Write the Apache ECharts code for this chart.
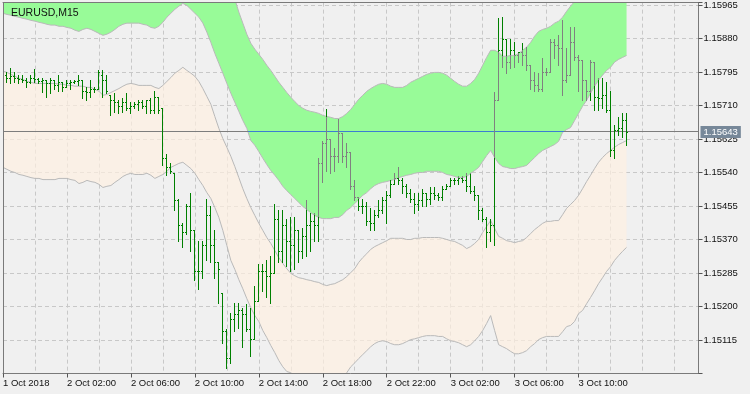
<!DOCTYPE html>
<html><head><meta charset="utf-8">
<script src="https://cdn.jsdelivr.net/npm/echarts@6/dist/echarts.min.js"></script>
<style>html,body{margin:0;padding:0;background:#f0f0f0}#c{width:750px;height:394px}</style>
</head><body><div id="c"></div>
<script>
const symbolLabel = 'EURUSD,M15';
const xTickLabels = ['1 Oct 2018','2 Oct 02:00','2 Oct 06:00','2 Oct 10:00','2 Oct 14:00','2 Oct 18:00','2 Oct 22:00','3 Oct 02:00','3 Oct 06:00','3 Oct 10:00'];
const yTickLabels = ['1.15115','1.15200','1.15285','1.15370','1.15455','1.15540','1.15625','1.15710','1.15795','1.15880','1.15965'];
const lastPrice = 1.15643;
const slotCount = 175;

const greenTop = [1.16188,1.16188,1.16185,1.16180,1.16178,1.16175,1.16170,1.16168,1.16165,1.16162,
1.16162,1.16160,1.16157,1.16157,1.16150,1.16150,1.16145,1.16145,1.16140,1.16145,
1.16147,1.16142,1.16142,1.16134,1.16129,1.16122,1.16124,1.16132,1.16137,1.16142,
1.16145,1.16147,1.16147,1.16147,1.16145,1.16142,1.16137,1.16137,1.16137,1.16134,
1.16147,1.16162,1.16173,1.16188,1.16198,1.16211,1.16206,1.16195,1.16190,1.16183,
1.16165,1.16140,1.16109,1.16074,1.16043,1.16025,1.16015,1.16005,1.15980,1.15947,
1.15919,1.15891,1.15868,1.15853,1.15840,1.15827,1.15812,1.15799,1.15784,1.15769,
1.15756,1.15743,1.15731,1.15720,1.15710,1.15703,1.15698,1.15695,1.15693,1.15690,
1.15685,1.15682,1.15680,1.15677,1.15677,1.15682,1.15690,1.15700,1.15713,1.15726,
1.15736,1.15746,1.15753,1.15759,1.15764,1.15766,1.15764,1.15759,1.15756,1.15756,
1.15756,1.15761,1.15769,1.15774,1.15779,1.15784,1.15789,1.15792,1.15794,1.15794,
1.15792,1.15787,1.15779,1.15771,1.15764,1.15759,1.15759,1.15766,1.15776,1.15792,
1.15812,1.15832,1.15850,1.15850,1.15845,1.15835,1.15835,1.15837,1.15837,1.15842,
1.15850,1.15858,1.15870,1.15886,1.15898,1.15903,1.15906,1.15911,1.15919,1.15924,
1.15934,1.15949,1.15962,1.15974,1.15995,1.16018,1.16033,1.16051,1.16068,1.16081,
1.16091,1.16099,1.16101,1.16107,1.16109,1.16109,1.16109];

const greenBottom = [1.15944,1.15941,1.15939,1.15936,1.15934,1.15931,1.15929,1.15926,1.15924,1.15921,
1.15919,1.15916,1.15914,1.15914,1.15911,1.15911,1.15908,1.15906,1.15901,1.15898,
1.15903,1.15906,1.15903,1.15898,1.15893,1.15888,1.15891,1.15896,1.15903,1.15911,
1.15916,1.15919,1.15919,1.15919,1.15919,1.15916,1.15914,1.15908,1.15906,1.15911,
1.15921,1.15934,1.15944,1.15954,1.15962,1.15969,1.15964,1.15954,1.15944,1.15934,
1.15919,1.15896,1.15870,1.15842,1.15817,1.15792,1.15766,1.15741,1.15718,1.15695,
1.15672,1.15652,1.15621,1.15609,1.15593,1.15576,1.15560,1.15545,1.15533,1.15520,
1.15505,1.15494,1.15484,1.15474,1.15464,1.15454,1.15446,1.15438,1.15431,1.15426,
1.15423,1.15423,1.15423,1.15426,1.15426,1.15433,1.15444,1.15451,1.15461,1.15472,
1.15482,1.15489,1.15499,1.15507,1.15512,1.15515,1.15517,1.15520,1.15522,1.15527,
1.15530,1.15533,1.15535,1.15538,1.15540,1.15540,1.15543,1.15543,1.15543,1.15543,
1.15540,1.15535,1.15533,1.15530,1.15527,1.15527,1.15530,1.15538,1.15545,1.15553,
1.15568,1.15583,1.15596,1.15578,1.15563,1.15555,1.15553,1.15550,1.15550,1.15553,
1.15555,1.15558,1.15568,1.15578,1.15588,1.15596,1.15601,1.15606,1.15611,1.15619,
1.15642,1.15649,1.15654,1.15672,1.15690,1.15708,1.15723,1.15741,1.15759,1.15774,
1.15787,1.15799,1.15807,1.15820,1.15827,1.15832,1.15837];

const peachTop = [1.15797,1.15794,1.15789,1.15784,1.15779,1.15776,1.15771,1.15769,1.15766,1.15766,
1.15766,1.15766,1.15766,1.15766,1.15764,1.15764,1.15761,1.15761,1.15759,1.15759,
1.15759,1.15756,1.15756,1.15751,1.15746,1.15736,1.15738,1.15743,1.15748,1.15753,
1.15759,1.15764,1.15766,1.15764,1.15761,1.15761,1.15761,1.15761,1.15756,1.15753,
1.15761,1.15771,1.15781,1.15792,1.15799,1.15807,1.15799,1.15792,1.15784,1.15771,
1.15753,1.15733,1.15713,1.15682,1.15652,1.15626,1.15604,1.15581,1.15555,1.15527,
1.15499,1.15474,1.15451,1.15431,1.15411,1.15393,1.15375,1.15360,1.15342,1.15324,
1.15309,1.15296,1.15284,1.15278,1.15273,1.15271,1.15268,1.15266,1.15263,1.15261,
1.15256,1.15253,1.15256,1.15258,1.15263,1.15268,1.15276,1.15286,1.15296,1.15312,
1.15324,1.15334,1.15345,1.15352,1.15357,1.15362,1.15367,1.15373,1.15373,1.15373,
1.15373,1.15370,1.15370,1.15373,1.15373,1.15375,1.15375,1.15375,1.15375,1.15375,
1.15373,1.15370,1.15367,1.15365,1.15360,1.15355,1.15347,1.15352,1.15360,1.15370,
1.15388,1.15403,1.15418,1.15398,1.15378,1.15373,1.15367,1.15365,1.15362,1.15365,
1.15367,1.15375,1.15385,1.15395,1.15403,1.15411,1.15416,1.15416,1.15418,1.15418,
1.15433,1.15449,1.15459,1.15469,1.15482,1.15499,1.15517,1.15533,1.15550,1.15566,
1.15578,1.15588,1.15596,1.15604,1.15611,1.15616,1.15621];

const peachBottom = [1.15553,1.15548,1.15543,1.15540,1.15535,1.15533,1.15530,1.15527,1.15525,1.15525,
1.15522,1.15522,1.15522,1.15522,1.15525,1.15525,1.15525,1.15522,1.15520,1.15512,
1.15515,1.15520,1.15517,1.15515,1.15510,1.15502,1.15505,1.15507,1.15515,1.15522,
1.15530,1.15535,1.15538,1.15535,1.15535,1.15535,1.15538,1.15533,1.15525,1.15530,
1.15535,1.15543,1.15553,1.15558,1.15563,1.15566,1.15558,1.15550,1.15538,1.15522,
1.15507,1.15489,1.15474,1.15451,1.15426,1.15393,1.15355,1.15317,1.15294,1.15268,
1.15245,1.15220,1.15197,1.15177,1.15162,1.15139,1.15121,1.15101,1.15083,1.15063,
1.15047,1.15035,1.15032,1.15024,1.15019,1.15014,1.15007,1.14999,1.14994,1.14989,
1.14986,1.14984,1.14986,1.14991,1.15004,1.15017,1.15032,1.15047,1.15057,1.15068,
1.15078,1.15088,1.15098,1.15106,1.15111,1.15113,1.15111,1.15106,1.15103,1.15103,
1.15106,1.15111,1.15116,1.15118,1.15121,1.15124,1.15126,1.15126,1.15126,1.15124,
1.15124,1.15118,1.15113,1.15111,1.15108,1.15103,1.15098,1.15103,1.15113,1.15124,
1.15139,1.15157,1.15177,1.15139,1.15103,1.15098,1.15093,1.15086,1.15080,1.15080,
1.15083,1.15088,1.15098,1.15106,1.15116,1.15121,1.15124,1.15124,1.15124,1.15124,
1.15136,1.15149,1.15152,1.15162,1.15182,1.15190,1.15207,1.15223,1.15240,1.15258,
1.15273,1.15289,1.15301,1.15317,1.15329,1.15340,1.15350];

const opens = [null,1.15787,1.15781,1.15784,1.15779,1.15776,1.15774,1.15769,1.15781,1.15776,
1.15771,1.15774,1.15766,1.15774,1.15761,1.15769,1.15756,1.15766,1.15769,1.15771,
1.15774,1.15748,1.15743,1.15753,1.15753,1.15787,1.15774,1.15736,1.15723,1.15718,
1.15710,1.15718,1.15703,1.15710,1.15715,1.15718,1.15710,1.15723,1.15698,1.15731,
1.15703,1.15578,1.15553,1.15538,1.15469,1.15406,1.15388,1.15456,1.15393,1.15291,
1.15291,1.15355,1.15431,1.15355,1.15312,1.15235,1.15139,1.15070,1.15169,1.15182,
1.15190,1.15182,1.15144,1.15118,1.15215,1.15291,1.15291,1.15278,1.15286,1.15423,
1.15342,1.15406,1.15367,1.15355,1.15393,1.15342,1.15380,1.15406,1.15418,1.15406,
1.15563,1.15614,1.15626,1.15583,1.15583,1.15639,1.15583,1.15591,1.15507,1.15477,
1.15456,1.15456,1.15418,1.15413,1.15431,1.15444,1.15469,1.15482,1.15512,1.15525,
1.15520,1.15507,1.15489,1.15474,1.15461,1.15469,1.15487,1.15474,1.15489,1.15482,
1.15477,1.15499,1.15505,1.15520,1.15520,1.15525,1.15520,1.15507,1.15494,1.15482,
1.15444,1.15423,1.15388,1.15406,1.15723,1.15850,1.15880,1.15820,1.15850,1.15837,
1.15845,1.15837,1.15812,1.15774,1.15761,1.15753,1.15794,1.15794,1.15870,1.15863,
1.15855,1.15774,1.15787,1.15870,1.15832,1.15825,1.15774,1.15748,1.15820,1.15731,
1.15728,1.15736,1.15698,1.15596,1.15647,1.15654,1.15672];

const highs = [null,1.15794,1.15804,1.15794,1.15787,1.15787,1.15779,1.15787,1.15802,1.15781,
1.15781,1.15774,1.15779,1.15774,1.15787,1.15769,1.15774,1.15774,1.15774,1.15787,
1.15774,1.15756,1.15774,1.15756,1.15799,1.15799,1.15787,1.15736,1.15741,1.15723,
1.15728,1.15741,1.15718,1.15718,1.15723,1.15723,1.15723,1.15728,1.15746,1.15731,
1.15703,1.15588,1.15563,1.15538,1.15474,1.15411,1.15461,1.15487,1.15393,1.15367,
1.15367,1.15474,1.15456,1.15393,1.15312,1.15235,1.15144,1.15184,1.15210,1.15210,
1.15195,1.15207,1.15197,1.15253,1.15309,1.15309,1.15317,1.15329,1.15461,1.15444,
1.15444,1.15423,1.15428,1.15426,1.15393,1.15400,1.15469,1.15436,1.15438,1.15576,
1.15621,1.15700,1.15626,1.15601,1.15677,1.15639,1.15616,1.15591,1.15520,1.15477,
1.15474,1.15464,1.15449,1.15444,1.15469,1.15477,1.15494,1.15520,1.15540,1.15553,
1.15525,1.15512,1.15499,1.15489,1.15487,1.15499,1.15487,1.15502,1.15502,1.15489,
1.15507,1.15510,1.15525,1.15525,1.15530,1.15530,1.15540,1.15540,1.15505,1.15482,
1.15449,1.15426,1.15423,1.15743,1.15931,1.15934,1.15880,1.15880,1.15870,1.15845,
1.15868,1.15858,1.15812,1.15794,1.15792,1.15830,1.15804,1.15880,1.15880,1.15888,
1.15926,1.15855,1.15908,1.15908,1.15837,1.15825,1.15774,1.15825,1.15820,1.15779,
1.15779,1.15769,1.15748,1.15660,1.15680,1.15690,1.15690];

const lows = [null,1.15769,1.15766,1.15769,1.15766,1.15769,1.15756,1.15766,1.15769,1.15766,
1.15743,1.15731,1.15741,1.15753,1.15748,1.15748,1.15756,1.15753,1.15766,1.15761,
1.15728,1.15723,1.15731,1.15743,1.15753,1.15731,1.15741,1.15685,1.15693,1.15690,
1.15693,1.15698,1.15690,1.15703,1.15698,1.15703,1.15690,1.15690,1.15690,1.15690,
1.15558,1.15533,1.15540,1.15444,1.15367,1.15350,1.15385,1.15342,1.15266,1.15245,
1.15273,1.15317,1.15312,1.15273,1.15210,1.15108,1.15045,1.15057,1.15139,1.15146,
1.15096,1.15139,1.15075,1.15118,1.15215,1.15240,1.15223,1.15210,1.15284,1.15312,
1.15312,1.15304,1.15291,1.15296,1.15312,1.15322,1.15329,1.15342,1.15367,1.15367,
1.15515,1.15545,1.15538,1.15545,1.15566,1.15566,1.15553,1.15499,1.15469,1.15444,
1.15438,1.15406,1.15393,1.15393,1.15426,1.15436,1.15411,1.15477,1.15512,1.15512,
1.15489,1.15477,1.15464,1.15436,1.15444,1.15456,1.15456,1.15461,1.15474,1.15469,
1.15469,1.15499,1.15505,1.15512,1.15512,1.15515,1.15494,1.15487,1.15469,1.15423,
1.15418,1.15350,1.15367,1.15355,1.15723,1.15807,1.15792,1.15804,1.15807,1.15820,
1.15812,1.15799,1.15753,1.15748,1.15748,1.15748,1.15787,1.15794,1.15830,1.15812,
1.15736,1.15769,1.15787,1.15825,1.15748,1.15723,1.15723,1.15723,1.15698,1.15698,
1.15703,1.15693,1.15583,1.15576,1.15634,1.15629,1.15609];

const closes = [null,1.15781,1.15784,1.15779,1.15776,1.15774,1.15769,1.15781,1.15776,1.15771,
1.15774,1.15766,1.15774,1.15761,1.15769,1.15756,1.15766,1.15769,1.15771,1.15774,
1.15748,1.15743,1.15753,1.15753,1.15794,1.15774,1.15748,1.15723,1.15718,1.15710,
1.15718,1.15703,1.15710,1.15715,1.15718,1.15710,1.15723,1.15698,1.15731,1.15698,
1.15578,1.15553,1.15545,1.15469,1.15406,1.15388,1.15456,1.15393,1.15291,1.15291,
1.15355,1.15431,1.15355,1.15312,1.15296,1.15139,1.15070,1.15169,1.15182,1.15190,
1.15182,1.15144,1.15118,1.15215,1.15291,1.15291,1.15278,1.15286,1.15423,1.15342,
1.15406,1.15367,1.15355,1.15393,1.15342,1.15380,1.15406,1.15418,1.15406,1.15563,
1.15614,1.15626,1.15583,1.15583,1.15639,1.15583,1.15591,1.15507,1.15477,1.15456,
1.15456,1.15418,1.15413,1.15431,1.15444,1.15469,1.15482,1.15512,1.15525,1.15520,
1.15507,1.15489,1.15474,1.15461,1.15469,1.15487,1.15474,1.15489,1.15482,1.15477,
1.15499,1.15505,1.15520,1.15520,1.15525,1.15520,1.15507,1.15494,1.15482,1.15444,
1.15423,1.15388,1.15406,1.15723,1.15850,1.15880,1.15820,1.15850,1.15837,1.15845,
1.15837,1.15812,1.15774,1.15761,1.15753,1.15794,1.15794,1.15870,1.15863,1.15855,
1.15774,1.15787,1.15870,1.15832,1.15825,1.15774,1.15748,1.15820,1.15731,1.15728,
1.15736,1.15698,1.15596,1.15647,1.15654,1.15672,1.15643];

// ---------- build ----------
const FONT = 'Liberation Sans, Arial, sans-serif';
const BAR_GREEN = '#008000', BAR_GRAY = '#808080', BAND_LINE = '#b9b9b9';
const PRICE_GRAY = '#7d7d7d', PRICE_BLUE = '#3c7dd2';
const cats = Array.from({length: slotCount}, (_, i) => String(i));
const diff = (a, b) => a.map((v, i) => +(v - b[i]).toFixed(6));
const barData = [];
for (let i = 0; i < opens.length; i++) if (opens[i] != null) barData.push([i, opens[i], highs[i], lows[i], closes[i]]);
const priceData = cats.map((c, i) => [i, lastPrice]);
const priceFlat = cats.map(() => lastPrice);

function inGreen(i, v) { return i < greenTop.length && v >= greenBottom[i] && v <= greenTop[i]; }

function renderBar(params, api) {
  const i = api.value(0), o = api.value(1), h = api.value(2), l = api.value(3), c = api.value(4);
  const px = Math.floor(api.coord([i, o])[0]);
  const py = v => Math.round(api.coord([i, v])[1]);
  const cuts = [l, h];
  [greenBottom[i], greenTop[i]].forEach(v => { if (v > l && v < h) cuts.push(v); });
  cuts.sort((a, b) => a - b);
  const kids = [];
  for (let k = 0; k < cuts.length - 1; k++) {
    const a = cuts[k], b = cuts[k + 1];
    const yT = py(b), yB = py(a) + (k === 0 ? 1 : 0);
    kids.push({type: 'rect', shape: {x: px, y: yT, width: 1, height: Math.max(1, yB - yT)},
      style: {fill: inGreen(i, (a + b) / 2) ? BAR_GRAY : BAR_GREEN, lineWidth: 0}});
  }
  kids.push({type: 'rect', shape: {x: px - 1, y: py(o), width: 1, height: 1}, style: {fill: inGreen(i, o) ? BAR_GRAY : BAR_GREEN, lineWidth: 0}});
  kids.push({type: 'rect', shape: {x: px + 1, y: py(c), width: 1, height: 1}, style: {fill: inGreen(i, c) ? BAR_GRAY : BAR_GREEN, lineWidth: 0}});
  return {type: 'group', children: kids};
}

function renderPrice(params, api) {
  const i = api.value(0), v = api.value(1);
  const p = api.coord([i, v]);
  return {type: 'rect', shape: {x: Math.floor(p[0]) - 2, y: Math.floor(p[1]), width: 4, height: 1},
    style: {fill: inGreen(i, v) ? PRICE_BLUE : PRICE_GRAY, lineWidth: 0}};
}

const yMin = 1.15030, yMax = 1.15971, yStep = 0.00085;
const dash = {color: '#c8c8c8', type: [4, 3], width: 1};
const frame = {color: '#7a7a7a', width: 1};
const tickShown = (idx) => idx % 16 === 0 && idx / 16 < xTickLabels.length;

const baseX = {type: 'category', data: cats, boundaryGap: false};
const baseY = {type: 'value', min: yMin, max: yMax, interval: yStep};

const option = {
  backgroundColor: '#f0f0f0',
  animation: false,
  textStyle: {fontFamily: FONT},
  title: {text: symbolLabel, left: 6, top: 3, textStyle: {fontSize: 10.5, fontWeight: 'normal', color: '#111', fontFamily: FONT}},
  grid: {left: 2.5, right: 51.5, top: 2.5, bottom: 20.5, containLabel: false},
  xAxis: [
    Object.assign({}, baseX, {position: 'bottom', z: 10,
      axisLine: {show: true, lineStyle: frame},
      axisTick: {show: true, interval: tickShown, length: 4, lineStyle: {color: '#555'}},
      axisLabel: {show: true, interval: tickShown, align: 'left', margin: 5, fontSize: 9.5, color: '#111', fontFamily: FONT,
        formatter: (v, idx) => xTickLabels[idx / 16] || ''},
      splitLine: {show: false}}),
    Object.assign({}, baseX, {position: 'top', z: 10,
      axisLine: {show: true, lineStyle: frame}, axisTick: {show: false}, axisLabel: {show: false}, splitLine: {show: false}}),
    Object.assign({}, baseX, {position: 'bottom', z: 0,
      axisLine: {show: false}, axisTick: {show: false}, axisLabel: {show: false},
      splitLine: {show: true, interval: 7, lineStyle: dash}})
  ],
  yAxis: [
    Object.assign({}, baseY, {position: 'right', z: 10,
      axisLine: {show: true, lineStyle: frame},
      axisTick: {show: true, length: 4, lineStyle: {color: '#555'}},
      axisLabel: {show: true, margin: 5, fontSize: 9.5, color: '#111', fontFamily: FONT, showMinLabel: true, showMaxLabel: true,
        formatter: v => { const s = v.toFixed(5); return yTickLabels.indexOf(s) >= 0 ? s : ''; }},
      splitLine: {show: false}}),
    Object.assign({}, baseY, {position: 'left', z: 10,
      axisLine: {show: true, lineStyle: frame}, axisTick: {show: false}, axisLabel: {show: false}, splitLine: {show: false}}),
    Object.assign({}, baseY, {position: 'right', z: 0,
      axisLine: {show: false}, axisTick: {show: false}, axisLabel: {show: false},
      splitLine: {show: true, lineStyle: dash}})
  ],
  series: [
    {type: 'line', name: 'peachBase', data: peachBottom, stack: 'peach', symbol: 'none', z: 1,
      lineStyle: {color: BAND_LINE, width: 1}},
    {type: 'line', name: 'peachBand', data: diff(peachTop, peachBottom), stack: 'peach', symbol: 'none', z: 1,
      lineStyle: {color: BAND_LINE, width: 1}, areaStyle: {color: 'rgba(255,240,225,0.67)', opacity: 1}},
    {type: 'line', name: 'greenBase', data: greenBottom, stack: 'green', symbol: 'none', z: 2,
      lineStyle: {color: BAND_LINE, width: 1}},
    {type: 'line', name: 'greenBand', data: diff(greenTop, greenBottom), stack: 'green', symbol: 'none', z: 2,
      lineStyle: {color: BAND_LINE, width: 1}, areaStyle: {color: '#98fb98', opacity: 1}},
    {type: 'custom', name: 'priceLine', data: priceData, renderItem: renderPrice, z: 3, clip: true},
    {type: 'line', name: 'priceTag', data: priceFlat, symbol: 'none', z: 12, silent: true, clip: false,
      lineStyle: {color: 'rgba(0,0,0,0)', width: 1},
      endLabel: {show: true, distance: 2, formatter: () => lastPrice.toFixed(5), color: '#ffffff',
        backgroundColor: '#778899', padding: [1, 3, 1, 3], lineHeight: 10, fontSize: 9.5, fontFamily: FONT}},
    {type: 'custom', name: 'bars', data: barData, renderItem: renderBar, z: 4, clip: true}
  ]
};
const chart = echarts.init(document.getElementById('c'), null, {renderer: 'canvas'});
chart.setOption(option);
</script></body></html>
